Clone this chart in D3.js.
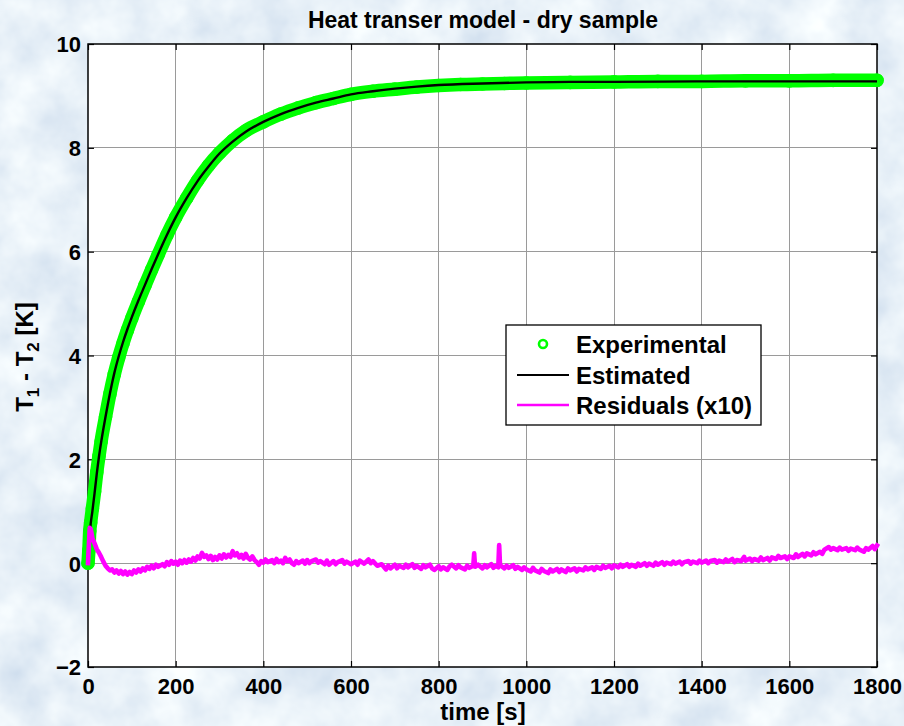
<!DOCTYPE html>
<html><head><meta charset="utf-8">
<script src="https://cdn.jsdelivr.net/npm/d3@7"></script>
<style>body{margin:0;background:#dbe7f3;} svg{display:block;}</style>
</head><body>
<script>
// ---------- data ----------
const chartTitle = "Heat transer model - dry sample";
const xLabel = "time [s]";
const xTicks = [0,200,400,600,800,1000,1200,1400,1600,1800];
const yTicks = [-2,0,2,4,6,8,10];
const legendLabels = ["Experimental","Estimated","Residuals (x10)"];

// Experimental temperature difference [t (s), T1-T2 (K)]
const experimental = [[0,0.0],[2,0.25],[4,0.62],[6,0.78],[10,1.05],[15,1.38],[20,1.75],[25,2.06],[30,2.35],
 [40,2.82],[50,3.26],[60,3.64],[70,3.96],[80,4.24],[90,4.49],[100,4.72],[115,5.04],[130,5.35],[145,5.65],
 [160,5.94],[180,6.32],[200,6.66],[225,7.03],[250,7.37],[275,7.66],[300,7.9],[330,8.14],[360,8.33],
 [400,8.5],[440,8.65],[480,8.77],[520,8.87],[560,8.95],[600,9.03],[650,9.09],[700,9.13],[750,9.17],
 [800,9.2],[850,9.22],[900,9.23],[950,9.24],[1000,9.25],[1100,9.26],[1200,9.27],[1300,9.28],[1400,9.28],
 [1500,9.29],[1600,9.29],[1700,9.3],[1800,9.3]];

// Model estimate
const estimated = [[0,0],[2,0.2],[5,0.65],[10,1.0],[15,1.35],[20,1.72],[25,2.05],[30,2.33],[40,2.82],
 [50,3.27],[60,3.66],[70,3.98],[80,4.26],[90,4.51],[100,4.74],[115,5.06],[130,5.36],[145,5.66],[160,5.95],
 [180,6.32],[200,6.66],[225,7.03],[250,7.36],[275,7.64],[300,7.89],[330,8.12],[360,8.31],[400,8.5],
 [440,8.65],[480,8.77],[520,8.87],[560,8.95],[600,9.03],[650,9.09],[700,9.14],[750,9.18],[800,9.21],
 [900,9.24],[1000,9.26],[1100,9.27],[1200,9.27],[1400,9.28],[1600,9.28],[1800,9.28]];

// Residuals x10
const residuals = [[0,0],[2,0.35],[4,0.68],[6,0.66],[8,0.58],[10,0.48],[15,0.38],[20,0.27],[25,0.2],[30,0.12],
 [35,0.03],[40,-0.05],[45,-0.1],[50,-0.14],[55,-0.12],[60,-0.18],[65,-0.14],[70,-0.2],[75,-0.15],[80,-0.21],
 [85,-0.16],[90,-0.22],[95,-0.17],[100,-0.21],[105,-0.14],[110,-0.18],[115,-0.12],[120,-0.16],[125,-0.1],
 [130,-0.14],[135,-0.07],[140,-0.11],[145,-0.05],[150,-0.1],[155,-0.03],[160,-0.07],[170,-0.02],[175,-0.06],
 [180,0.02],[185,-0.03],[190,0.04],[195,-0.01],[200,0.03],[205,-0.03],[210,0.05],[215,0.0],[220,0.06],
 [225,0.01],[230,0.07],[235,0.03],[240,0.1],[245,0.05],[250,0.13],[255,0.09],[260,0.2],[265,0.12],[270,0.15],
 [275,0.08],[280,0.14],[285,0.06],[290,0.12],[295,0.07],[300,0.15],[305,0.09],[310,0.17],[315,0.11],
 [320,0.16],[325,0.12],[330,0.23],[335,0.15],[340,0.19],[345,0.11],[350,0.16],[355,0.09],[360,0.18],
 [365,0.1],[370,0.07],[375,0.13],[380,0.06],[385,0.02],[390,-0.03],[395,0.04],[400,0.01],[405,0.07],
 [410,0.02],[420,0.06],[425,0.0],[430,0.08],[435,0.02],[440,0.05],[445,0.0],[450,0.1],[455,0.04],[460,0.07],
 [465,0.0],[470,-0.03],[475,0.04],[480,0.0],[490,0.05],[495,-0.01],[500,0.06],[505,0.0],[510,0.04],
 [520,0.07],[525,0.01],[530,0.04],[540,-0.02],[545,0.05],[550,-0.03],[560,0.04],[565,-0.02],[570,0.02],
 [580,0.06],[585,-0.01],[590,0.03],[600,-0.02],[610,0.03],[615,-0.03],[620,0.05],[630,-0.01],[640,0.07],
 [645,0.0],[650,0.04],[660,-0.05],[670,-0.02],[680,-0.12],[685,-0.05],[690,-0.1],[700,-0.03],[705,-0.1],
 [710,-0.05],[720,-0.09],[725,-0.03],[730,-0.08],[740,-0.02],[745,-0.09],[750,-0.05],[760,-0.11],[765,-0.04],
 [770,-0.08],[780,-0.03],[785,-0.1],[790,-0.13],[800,-0.06],[805,-0.12],[810,-0.08],[820,-0.13],[825,-0.06],
 [830,-0.03],[840,-0.1],[845,-0.04],[850,-0.08],[860,-0.12],[865,-0.05],[870,-0.09],[879,-0.05],[881,0.19],
 [883,-0.07],[890,-0.03],[900,-0.1],[905,-0.04],[910,-0.08],[920,-0.02],[925,-0.09],[930,-0.05],[936,-0.08],
 [938,0.35],[940,-0.04],[950,-0.1],[955,-0.05],[960,-0.09],[970,-0.04],[975,-0.11],[980,-0.07],[990,-0.13],
 [995,-0.08],[1000,-0.12],[1010,-0.16],[1015,-0.09],[1020,-0.14],[1030,-0.18],[1035,-0.11],[1040,-0.15],
 [1050,-0.19],[1055,-0.12],[1060,-0.16],[1070,-0.11],[1075,-0.17],[1080,-0.12],[1090,-0.17],[1095,-0.1],
 [1100,-0.14],[1110,-0.1],[1115,-0.16],[1120,-0.11],[1130,-0.14],[1135,-0.08],[1140,-0.12],[1150,-0.08],
 [1155,-0.13],[1160,-0.07],[1170,-0.11],[1175,-0.05],[1180,-0.09],[1190,-0.05],[1195,-0.1],[1200,-0.04],
 [1210,-0.08],[1215,-0.03],[1220,-0.07],[1230,-0.02],[1235,-0.07],[1240,-0.03],[1250,-0.07],[1255,-0.01],
 [1260,-0.05],[1270,0.0],[1275,-0.05],[1280,-0.01],[1290,-0.05],[1295,0.01],[1300,-0.03],[1310,0.02],
 [1315,-0.03],[1320,0.01],[1330,-0.02],[1335,0.03],[1340,-0.01],[1350,0.03],[1355,-0.02],[1360,0.02],
 [1370,0.04],[1375,-0.01],[1380,0.03],[1390,0.0],[1395,0.05],[1400,0.01],[1410,0.05],[1415,0.0],[1420,0.04],
 [1430,0.06],[1435,0.01],[1440,0.05],[1450,0.02],[1455,0.07],[1460,0.03],[1470,0.08],[1475,0.02],
 [1480,0.06],[1490,0.04],[1497,0.12],[1500,0.05],[1510,0.09],[1515,0.04],[1520,0.08],[1530,0.05],
 [1535,0.11],[1540,0.06],[1550,0.1],[1555,0.05],[1560,0.11],[1570,0.08],[1575,0.14],[1580,0.1],[1590,0.13],
 [1595,0.08],[1600,0.13],[1610,0.1],[1615,0.17],[1620,0.12],[1630,0.18],[1635,0.13],[1640,0.19],[1650,0.15],
 [1655,0.21],[1660,0.17],[1670,0.22],[1675,0.18],[1680,0.26],[1690,0.31],[1695,0.26],[1700,0.29],
 [1710,0.25],[1715,0.3],[1720,0.26],[1730,0.29],[1735,0.24],[1740,0.28],[1750,0.25],[1755,0.3],[1760,0.26],
 [1770,0.22],[1775,0.29],[1780,0.26],[1790,0.33],[1795,0.27],[1800,0.34]];

// ---------- drawing ----------
const W = 904, H = 726;
const FONT = "'Liberation Sans', Arial, Helvetica, sans-serif";
const svg = d3.select("body").append("svg").attr("width", W).attr("height", H);

const defs = svg.append("defs");
const f = defs.append("filter").attr("id","paper").attr("x",0).attr("y",0).attr("width","100%").attr("height","100%");
f.append("feTurbulence").attr("type","fractalNoise").attr("baseFrequency","0.02").attr("numOctaves",4).attr("seed",7).attr("result","n");
f.append("feColorMatrix").attr("in","n").attr("type","matrix")
 .attr("values","0.42 0 0 0 0.6  0.34 0 0 0 0.71  0.2 0 0 0 0.84  0 0 0 0 1");
svg.append("rect").attr("width",W).attr("height",H).attr("filter","url(#paper)");

const x = d3.scaleLinear().domain([0,1800]).range([88,877]);
const y = d3.scaleLinear().domain([-2,10]).range([667,44]);

svg.append("rect").attr("x",x(0)).attr("y",y(10)).attr("width",x(1800)-x(0)).attr("height",y(-2)-y(10)).attr("fill","#fff");

// grid
const grid = svg.append("g").attr("stroke","#9a9a9a").attr("stroke-width",1).attr("shape-rendering","crispEdges");
grid.selectAll(".gx").data(xTicks.slice(1,-1)).join("line")
 .attr("x1",d=>x(d)).attr("x2",d=>x(d)).attr("y1",y(10)).attr("y2",y(-2));
grid.selectAll(".gy").data(yTicks.slice(1,-1)).join("line")
 .attr("y1",d=>y(d)).attr("y2",d=>y(d)).attr("x1",x(0)).attr("x2",x(1800));

// axes with inward ticks
function styleAxis(g){
  g.select(".domain").remove();
  g.selectAll(".tick line").attr("stroke","#000").attr("stroke-width",1.2);
  g.selectAll("text").attr("font-family",FONT).attr("font-weight","bold").attr("font-size",22).attr("fill","#000");
}
const gb = svg.append("g").attr("transform",`translate(0,${y(-2)})`)
 .call(d3.axisBottom(x).tickValues(xTicks).tickSize(-6).tickFormat(d3.format("d")));
styleAxis(gb);
gb.selectAll("text").attr("y",27).attr("dy",0);
const gt = svg.append("g").attr("transform",`translate(0,${y(10)})`)
 .call(d3.axisTop(x).tickValues(xTicks).tickSize(-6).tickFormat(""));
styleAxis(gt);
const gl = svg.append("g").attr("transform",`translate(${x(0)},0)`)
 .call(d3.axisLeft(y).tickValues(yTicks).tickSize(-6).tickPadding(7).tickFormat(d3.format("d")));
styleAxis(gl);
gl.selectAll("text").attr("dy","0.36em");
const gr = svg.append("g").attr("transform",`translate(${x(1800)},0)`)
 .call(d3.axisRight(y).tickValues(yTicks).tickSize(-6).tickFormat(""));
styleAxis(gr);

svg.append("rect").attr("x",x(0)).attr("y",y(10)).attr("width",x(1800)-x(0)).attr("height",y(-2)-y(10))
 .attr("fill","none").attr("stroke","#000").attr("stroke-width",1.5);

// experimental (dense circle markers)
const line = d3.line().x(d=>x(d[0])).y(d=>y(d[1]));
const smooth = d3.line().x(d=>x(d[0])).y(d=>y(d[1])).curve(d3.curveMonotoneX);
svg.append("path").datum(experimental).attr("d",smooth).attr("fill","none")
 .attr("stroke","#00ff00").attr("stroke-width",13.5).attr("stroke-linecap","round").attr("stroke-linejoin","round");
svg.append("g").selectAll("circle").data(experimental).join("circle")
 .attr("cx",d=>x(d[0])).attr("cy",d=>y(d[1])).attr("r",5.3)
 .attr("fill","none").attr("stroke","#00ff00").attr("stroke-width",3);

// estimated
svg.append("path").datum(estimated).attr("d",smooth).attr("fill","none")
 .attr("stroke","#000").attr("stroke-width",2.4);

// residuals
svg.append("path").datum(residuals).attr("d",line).attr("fill","none")
 .attr("stroke","#ff00ff").attr("stroke-width",4.6).attr("stroke-linejoin","round").attr("stroke-linecap","square");

// title & labels
svg.append("text").attr("x",483).attr("y",28).attr("text-anchor","middle")
 .attr("font-family",FONT).attr("font-weight","bold").attr("font-size",23).text(chartTitle);
svg.append("text").attr("x",483).attr("y",720).attr("text-anchor","middle")
 .attr("font-family",FONT).attr("font-weight","bold").attr("font-size",24).text(xLabel);
const yl = svg.append("text").attr("transform","translate(33,357) rotate(-90)").attr("text-anchor","middle")
 .attr("font-family",FONT).attr("font-weight","bold").attr("font-size",24);
yl.append("tspan").text("T");
yl.append("tspan").attr("font-size",17).attr("dy",6).text("1");
yl.append("tspan").attr("dy",-6).text(" - T");
yl.append("tspan").attr("font-size",17).attr("dy",6).text("2");
yl.append("tspan").attr("dy",-6).text(" [K]");

// legend
const lg = svg.append("g");
lg.append("rect").attr("x",506).attr("y",325).attr("width",255).attr("height",100)
 .attr("fill","#fff").attr("stroke","#000").attr("stroke-width",1.3);
const rows = [344,375,405];
lg.append("circle").attr("cx",543).attr("cy",rows[0]).attr("r",4)
 .attr("fill","none").attr("stroke","#00ff00").attr("stroke-width",2.6);
lg.append("line").attr("x1",517).attr("x2",569).attr("y1",rows[1]).attr("y2",rows[1]).attr("stroke","#000").attr("stroke-width",2);
lg.append("line").attr("x1",517).attr("x2",569).attr("y1",rows[2]).attr("y2",rows[2]).attr("stroke","#ff00ff").attr("stroke-width",2.5);
lg.selectAll("text").data(legendLabels).join("text")
 .attr("x",576).attr("y",(d,i)=>rows[i]+9)
 .attr("font-family",FONT).attr("font-weight","bold").attr("font-size",24).attr("fill","#000").text(d=>d);
</script>
</body></html>
